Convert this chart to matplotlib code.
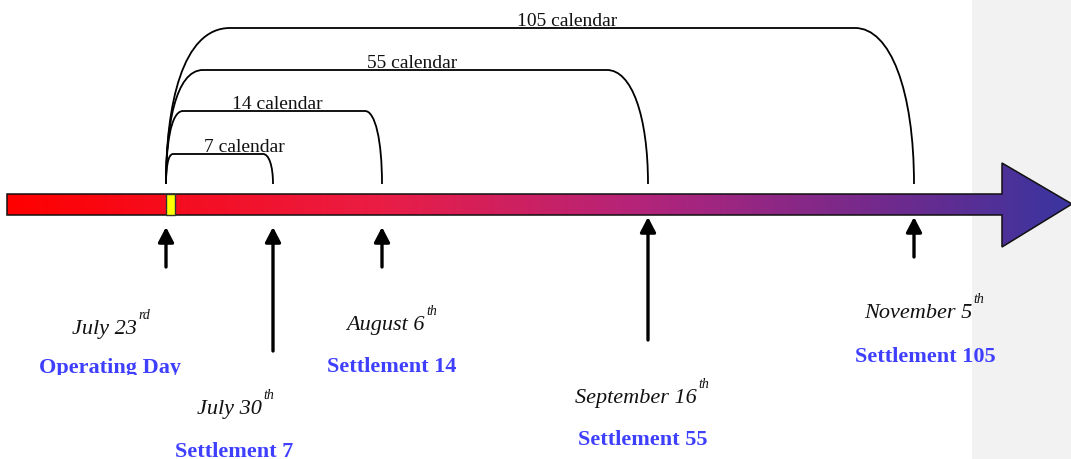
import numpy as np
import matplotlib
matplotlib.use("Agg")
from matplotlib import pyplot as plt
from matplotlib.path import Path
from matplotlib.patches import PathPatch, Polygon, Rectangle
from matplotlib.colors import LinearSegmentedColormap
from matplotlib.transforms import Bbox, TransformedBbox

# timeline data
days = [0, 7, 14, 55, 105]
dates = ["July 23", "July 30", "August 6", "September 16", "November 5"]
suffixes = ["rd", "th", "th", "th", "th"]
names = ["Operating Day", "Settlement 7", "Settlement 14", "Settlement 55", "Settlement 105"]
arc_labels = ["7 calendar", "14 calendar", "55 calendar", "105 calendar"]

# schematic layout (pixels, not to scale)
mark_x = [166, 273, 382, 648, 914]
arrow_tip = [228, 228, 228, 218, 218]
arrow_tail = [268, 352, 268, 341, 258]
date_right = [137, 262, 425, 697, 972]
date_base = [334, 414, 330, 403, 318]
name_x = [110, 234, 392, 643, 925]
name_base = [373, 457, 372, 445, 362]
arc_top = [155, 112, 71, 29]
arc_left_w = [7, 17, 37, 64]
arc_right_w = [10, 17, 41, 59]
label_x = [244, 277, 412, 567]

BLUE = "#3f3fff"
SERIF = "Liberation Serif"

fig = plt.figure(figsize=(10.71, 4.6), dpi=100)
ax = fig.add_axes([0, 0, 1, 1])
ax.set_xlim(0, 1071)
ax.set_ylim(460, 0)
ax.axis("off")

ax.add_patch(Rectangle((972, 0), 99, 460, color="#f2f2f2", zorder=0, lw=0))

# gradient arrow
pts = [(7, 195), (1002, 195), (1002, 164), (1072, 205), (1002, 248),
       (1002, 216), (7, 216)]
cmap = LinearSegmentedColormap.from_list("tl", [
    (0.0, "#ff0000"), (0.35, "#ea1d45"), (0.6, "#b2247b"),
    (0.85, "#6a2b8f"), (1.0, "#3a35a0")])
grad = np.linspace(0, 1, 512).reshape(1, -1)
im = ax.imshow(grad, cmap=cmap, extent=[7, 1072, 248, 164], aspect="auto", zorder=1)
outline = Polygon(pts, closed=True, fc="none", ec="#111111", lw=1.1, zorder=2)
ax.add_patch(outline)
im.set_clip_path(outline)
ax.set_xlim(0, 1071)
ax.set_ylim(460, 0)

ax.add_patch(Rectangle((166, 195), 9, 21, fc="#ffff00", ec="#333333", lw=1, zorder=3))

# calendar arcs
x0, y0 = mark_x[0], 185
for i, lab in enumerate(arc_labels):
    xr = mark_x[i + 1]
    top = arc_top[i]
    h = y0 - top
    wl = arc_left_w[i]
    wr = arc_right_w[i]
    verts = [(x0, y0), (x0, top + 0.5 * h), (x0 + 0.25 * wl, top), (x0 + wl, top),
             (xr - wr, top),
             (xr - 0.4 * wr, top), (xr, top + 0.4 * h), (xr, y0)]
    codes = [Path.MOVETO, Path.CURVE4, Path.CURVE4, Path.CURVE4, Path.LINETO,
             Path.CURVE4, Path.CURVE4, Path.CURVE4]
    ax.add_patch(PathPatch(Path(verts, codes), fc="none", ec="black", lw=1.3, zorder=2))
    ax.text(label_x[i], top - 3, lab, ha="center", va="baseline",
            fontsize=14, family=SERIF, color="#111111", zorder=4)

# up arrows and labels
for i in range(len(days)):
    ax.annotate("", xy=(mark_x[i], arrow_tip[i]), xytext=(mark_x[i], arrow_tail[i]),
                arrowprops=dict(arrowstyle="-|>,head_length=0.5,head_width=0.26",
                                lw=2.4, color="black", mutation_scale=18,
                                shrinkA=0, shrinkB=0))
    ax.text(date_right[i], date_base[i], dates[i], ha="right", va="baseline",
            fontsize=16, family=SERIF, style="italic", color="#111111")
    ax.text(date_right[i] + 1, date_base[i] - 15, suffixes[i], ha="left", va="baseline",
            fontsize=10, family=SERIF, style="italic", color="#111111")
    t = ax.text(name_x[i], name_base[i], names[i], ha="center", va="baseline",
                fontsize=16, family=SERIF, weight="bold", color=BLUE)
    if i == 0:
        t.set_clip_on(True)
        t.set_clip_box(TransformedBbox(Bbox([[0, 0], [1071, 376]]), ax.transData))

fig.savefig("out.png", dpi=100)
